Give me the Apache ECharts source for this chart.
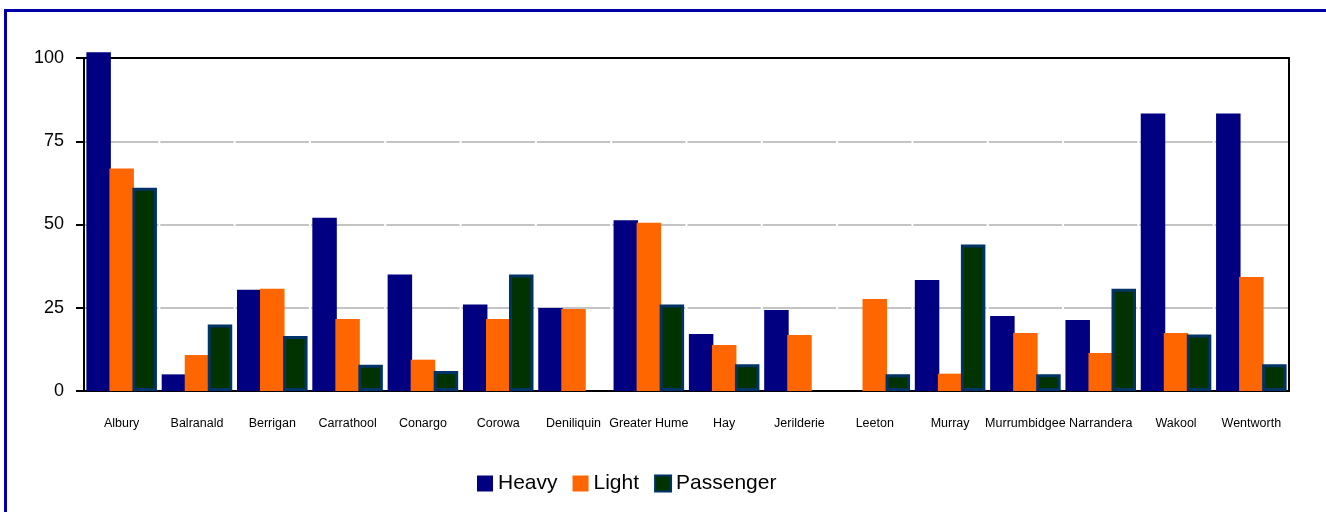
<!DOCTYPE html>
<html>
<head>
<meta charset="utf-8">
<script src="https://cdn.jsdelivr.net/npm/echarts@6/dist/echarts.min.js"></script>
<style>
  html, body { margin: 0; padding: 0; background: #ffffff; }
  #chart { width: 1326px; height: 512px; }
</style>
</head>
<body>
<div id="chart"></div>
<script>
// Vehicle class figures per council area
const categories = ['Albury', 'Balranald', 'Berrigan', 'Carrathool', 'Conargo', 'Corowa',
  'Deniliquin', 'Greater Hume', 'Hay', 'Jerilderie', 'Leeton', 'Murray',
  'Murrumbidgee', 'Narrandera', 'Wakool', 'Wentworth'];
const heavy = [101.7, 5, 30.4, 52, 35, 26, 24.9, 51.3, 17.1, 24.3, 0, 33.3, 22.5, 21.3, 83.3, 83.3];
const light = [66.8, 10.8, 30.7, 21.6, 9.4, 21.6, 24.6, 50.5, 13.8, 16.8, 27.6, 5.2, 17.4, 11.4, 17.4, 34.2];
const passenger = [61, 20, 16.5, 7.9, 6, 35, 0, 26, 8, 0, 5, 44, 5, 30.7, 17, 8];
const yTicks = [0, 25, 50, 75, 100];

const chart = echarts.init(document.getElementById('chart'), null, { renderer: 'canvas' });

const sans = "'Liberation Sans', Arial, sans-serif";

function bar(name, data, style) {
  return {
    name: name,
    type: 'bar',
    xAxisIndex: 0,
    yAxisIndex: 0,
    data: data.map(v => (v === 0 ? null : v)),
    barWidth: 24.5,
    barGap: '-6%',
    clip: false,
    z: 3,
    itemStyle: style,
    emphasis: { disabled: true }
  };
}

// frame lines on the top and right of the plot area
const frameAxis = {
  show: true,
  z: 1,
  axisLine: { show: true, onZero: false, lineStyle: { color: '#000000', width: 2 } },
  axisTick: { show: false },
  axisLabel: { show: false },
  splitLine: { show: false }
};

chart.setOption({
  animation: false,
  backgroundColor: '#ffffff',
  graphic: [{
    type: 'rect',
    shape: { x: 5.5, y: 10.5, width: 1400, height: 600 },
    style: { fill: 'none', stroke: '#0000A8', lineWidth: 3 },
    silent: true
  }],
  grid: { left: 84, top: 58, right: 37, bottom: 121 },
  legend: {
    left: 472, top: 468,
    itemWidth: 16, itemHeight: 16, itemGap: 15,
    icon: 'rect',
    textStyle: { fontFamily: sans, fontSize: 21, color: '#000000' },
    data: ['Heavy', 'Light', 'Passenger']
  },
  xAxis: [{
    type: 'category',
    data: categories,
    z: 1,
    axisLine: { lineStyle: { color: '#000000', width: 2 } },
    axisTick: { show: false },
    axisLabel: { interval: 0, margin: 26, fontFamily: sans, fontSize: 12.5, color: '#000000' }
  }, Object.assign({ type: 'category', data: categories, position: 'top' }, frameAxis)],
  yAxis: [{
    type: 'value',
    min: 0, max: 100, interval: 25,
    z: 0,
    axisLine: { show: true, lineStyle: { color: '#000000', width: 2 } },
    axisTick: { show: true, length: 8, lineStyle: { color: '#000000', width: 2 } },
    axisLabel: {
      margin: 20, fontFamily: sans, fontSize: 18, color: '#000000',
      formatter: v => (yTicks.includes(v) ? String(v) : '')
    },
    splitLine: {
      show: true,
      lineStyle: { color: '#c4c4c4', width: 2, type: [73.31, 2], dashOffset: -1 }
    }
  }, Object.assign({ type: 'value', min: 0, max: 100, position: 'right' }, frameAxis)],
  series: [
    bar('Heavy', heavy, { color: '#000080' }),
    bar('Light', light, { color: '#FF6600' }),
    bar('Passenger', passenger, { color: '#003300', borderColor: '#003366', borderWidth: 3 })
  ]
});
</script>
</body>
</html>
